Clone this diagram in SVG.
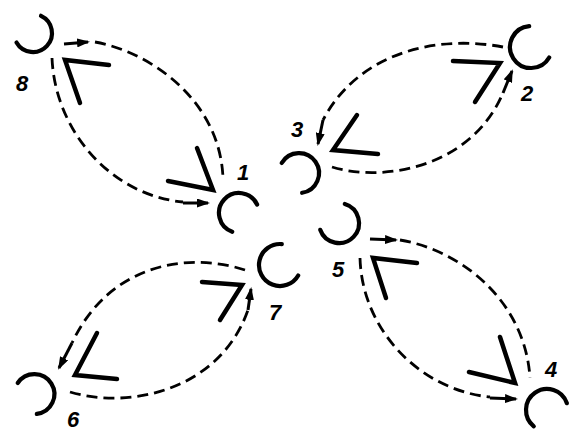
<svg xmlns="http://www.w3.org/2000/svg" width="571" height="432" viewBox="0 0 571 432">
<defs>
<marker id="ah" markerUnits="userSpaceOnUse" markerWidth="13" markerHeight="9" refX="11" refY="4.5" orient="auto">
<path d="M0,0 L13,4.5 L0,9 z" fill="#000"/>
</marker>
<style>
.arc{fill:none;stroke:#000;stroke-width:4.2;stroke-linecap:round}
.dash{fill:none;stroke:#000;stroke-width:2.8;stroke-dasharray:11 6}
.arr{fill:none;stroke:#000;stroke-width:3;marker-end:url(#ah)}
.chev{fill:none;stroke:#000;stroke-width:4.5;stroke-linecap:round;stroke-linejoin:miter}
.lbl{font-family:"Liberation Sans",Arial,sans-serif;font-size:22px;font-style:italic;font-weight:bold;text-anchor:middle;fill:#000}
</style>
</defs>
<rect width="571" height="432" fill="#fff"/>
<g id="connectors">
<path class="dash" d="M95,42 C150,52 220,100 223,178"/>
<path class="dash" d="M52,58 C55,130 110,195 183,202"/>
<path class="arr" d="M64,44 L88,42"/>
<path class="arr" d="M183,203 L208,203"/>
<path class="chev" d="M109,65 L65,60 L80,103"/>
<path class="chev" d="M168,181 L213,190 L197,148"/>

<path class="dash" d="M503,47 C440,35 360,50 323,120"/>
<path class="dash" d="M332,167 C380,182 470,170 503,93"/>
<path class="arr" d="M323,120 L318,144"/>
<path class="arr" d="M503,93 L512,71"/>
<path class="chev" d="M453,61 L500,63 L475,102"/>
<path class="chev" d="M357,115 L333,150 L378,154"/>

<path class="dash" d="M245,270 C190,252 110,262 72,343"/>
<path class="dash" d="M70,392 C130,410 220,390 248,310"/>
<path class="arr" d="M72,343 L59,368"/>
<path class="arr" d="M248,310 L251,289"/>
<path class="chev" d="M202,282 L242,285 L220,320"/>
<path class="chev" d="M97,333 L75,375 L117,379"/>

<path class="dash" d="M400,240 C460,250 525,300 530,378"/>
<path class="dash" d="M360,258 C362,330 420,390 490,397"/>
<path class="arr" d="M370,239 L396,240"/>
<path class="arr" d="M490,398 L516,399"/>
<path class="chev" d="M417,263 L373,258 L386,298"/>
<path class="chev" d="M469,372 L515,383 L500,337"/>
</g>
<g id="node8">
<path class="arc" d="M41,15.8 A19,19 0 1 1 16.5,42.5"/>
<text class="lbl" x="22" y="91">8</text>
</g>
<g id="node1">
<path class="arc" d="M257.1,204.5 A20,20 0 1 0 232.2,231.8"/>
<text class="lbl" x="243" y="180">1</text>
</g>
<g id="node2">
<path class="arc" d="M529.2,26.1 A21,21 0 1 0 549.2,57.5"/>
<text class="lbl" x="527" y="101">2</text>
</g>
<g id="node3">
<path class="arc" d="M281.7,163 A20,20 0 1 1 302.1,192.8"/>
<text class="lbl" x="297" y="137">3</text>
</g>
<g id="node4">
<path class="arc" d="M566.9,403.2 A21,21 0 1 0 533.8,426.3"/>
<text class="lbl" x="551" y="377">4</text>
</g>
<g id="node5">
<path class="arc" d="M344.8,203.9 A20,20 0 1 1 320.2,229.8"/>
<text class="lbl" x="338" y="277">5</text>
</g>
<g id="node6">
<path class="arc" d="M17.7,383 A20,20 0 1 1 36.8,413.9"/>
<text class="lbl" x="73" y="427">6</text>
</g>
<g id="node7">
<path class="arc" d="M281.8,244.1 A21,21 0 1 0 298.2,275.5"/>
<text class="lbl" x="275" y="320">7</text>
</g>
</svg>
